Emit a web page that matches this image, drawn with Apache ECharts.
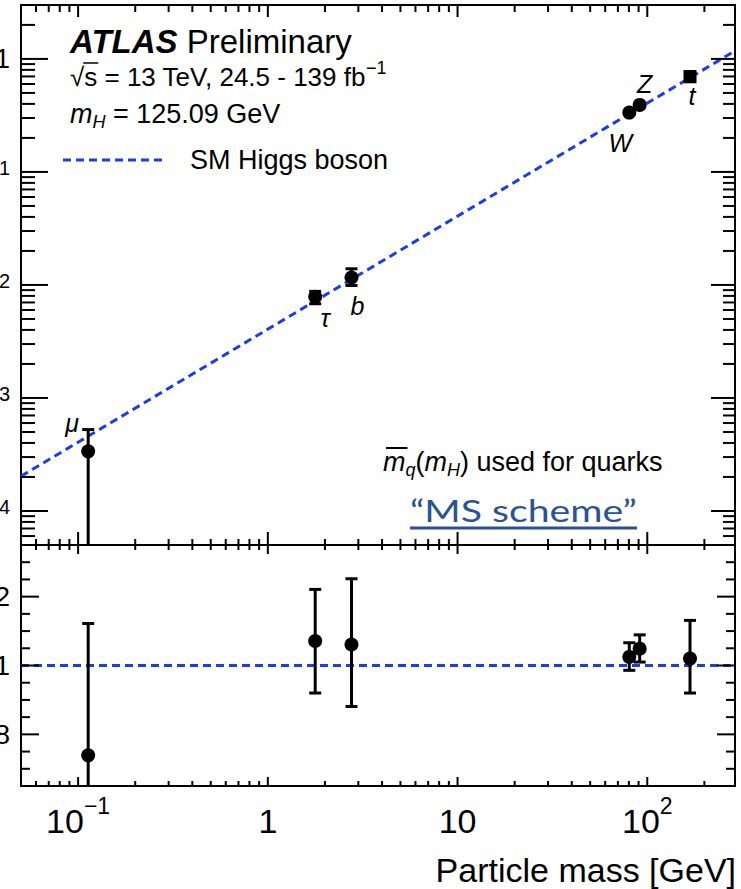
<!DOCTYPE html>
<html>
<head>
<meta charset="utf-8">
<script src="https://cdn.jsdelivr.net/npm/echarts@6/dist/echarts.min.js"></script>
<style>
  html, body { margin: 0; padding: 0; background: #fff; }
  #chart { width: 741px; height: 889px; }
</style>
</head>
<body>
<div id="chart"></div>
<script>
// ---- measured couplings (top panel) and ratios to the SM expectation (bottom panel)
const particleNames = ['μ', 'τ', 'b', 'W', 'Z', 't'];
const particleMass = [0.113, 1.777, 2.76, 80.38, 91.19, 168];
const couplingValue = [3.37e-4, 7.86e-3, 0.01165, 0.335, 0.392, 0.697];
const couplingLow = [1e-5, 6.82e-3, 0.0099, 0.322, 0.377, 0.629];
const couplingHigh = [5.25e-4, 8.77e-3, 0.0139, 0.349, 0.407, 0.773];
const ratioValue = [0.739, 1.071, 1.061, 1.025, 1.049, 1.020];
const ratioLow = [0.30, 0.920, 0.881, 0.986, 1.010, 0.920];
const ratioHigh = [1.122, 1.221, 1.252, 1.066, 1.089, 1.131];

// SM Higgs boson expectation (straight line on log-log axes)
const smLineMass = [0.05, 290];
const smLineCoupling = [2.03e-4, 1.178];
const smLineRatio = [1, 1];

// axis ranges and tick labels
const xRange = [0.05, 290];
const yRangeTop = [5e-5, 3];
const yRangeRatio = [0.65, 1.35];
const xTickLabels = [[0.1, '10', '−1'], [1, '1', ''], [10, '10', ''], [100, '10', '2']];
const yTickLabelsTop = [[1e-4, '10', '−4'], [1e-3, '10', '−3'], [1e-2, '10', '−2'], [1e-1, '10', '−1'], [1, '1', '']];
const yTickLabelsRatio = [[0.8, '0.8'], [1, '1'], [1.2, '1.2']];

// ---- styling
const BLUE = '#1a3ee6';
const FONT = '"Liberation Sans", Arial, Helvetica, sans-serif';
const DASH = [8, 5];
const labelOffset = [[-16, -28], [10, 21], [6, 29], [-9, 30], [5, -21], [2, 19]];
const markerSymbol = ['circle', 'circle', 'circle', 'circle', 'circle', 'rect'];

const measureCtx = document.createElement('canvas').getContext('2d');
function textWidth(str, font) { measureCtx.font = font; return measureCtx.measureText(str).width; }
function fnt(size, style) { return (style ? style + ' ' : '') + size + 'px ' + FONT; }

// lays out a sequence of text runs left to right: [text, font, dy]
function textRuns(x, y, parts, fill) {
  const els = [];
  let cx = x;
  parts.forEach(([t, f, dy]) => {
    els.push({ type: 'text', x: cx, y: y + (dy || 0), silent: true,
      style: { text: t, font: f, fill: fill || '#000', align: 'left', verticalAlign: 'middle' } });
    cx += textWidth(t, f);
  });
  return { els, width: cx - x };
}

function logMinorTicks(lo, hi) {
  const out = [];
  for (let e = Math.floor(Math.log10(lo)) - 1; e <= Math.ceil(Math.log10(hi)); e++) {
    for (let k = 2; k <= 9; k++) {
      const v = k * Math.pow(10, e);
      if (v >= lo * 0.999 && v <= hi * 1.001) out.push(v);
    }
  }
  return out;
}
const xMajor = [0.1, 1, 10, 100];
const xMinor = logMinorTicks(xRange[0], xRange[1]);
const yMajorTop = [1e-4, 1e-3, 1e-2, 1e-1, 1];
const yMinorTop = logMinorTicks(yRangeTop[0], yRangeTop[1]);
const yMajorRatio = [0.8, 1, 1.2];
const yMinorRatio = [];
for (let i = 65; i <= 135; i += 5) { if (i !== 80 && i !== 100 && i !== 120) yMinorRatio.push(i / 100); }

function seg(x1, y1, x2, y2, w, color) {
  return { type: 'line', silent: true, shape: { x1, y1, x2, y2 }, style: { stroke: color || '#000', lineWidth: w || 2 } };
}

// inward tick marks on all four sides of a panel, plus its tick labels
function frameRenderer(cfg) {
  return function (params, api) {
    const els = [];
    const [x0, x1] = xRange;
    const [y0, y1] = cfg.yRange;
    const xt = (v, lb, lt) => {
      const b = api.coord([v, y0]), t = api.coord([v, y1]);
      els.push(seg(b[0], b[1], b[0], b[1] - lb));
      els.push(seg(t[0], t[1], t[0], t[1] + lt));
    };
    const yt = (v, ll, lr) => {
      const l = api.coord([x0, v]), r = api.coord([x1, v]);
      els.push(seg(l[0], l[1], l[0] + ll, l[1]));
      els.push(seg(r[0], r[1], r[0] - lr, r[1]));
    };
    xMajor.forEach(v => xt(v, cfg.xMajB, cfg.xMajT));
    xMinor.forEach(v => xt(v, cfg.xMinB, cfg.xMinT));
    cfg.yMajor.forEach(v => yt(v, cfg.yMajL, cfg.yMajR));
    cfg.yMinor.forEach(v => yt(v, cfg.yMinL, cfg.yMinR));

    // y tick labels
    if (cfg.yLabelsExp) {
      cfg.yLabelsExp.forEach(([v, base, sup]) => {
        const p = api.coord([x0, v]);
        const right = p[0] - 11;
        const fb = fnt(27), fs = fnt(20);
        if (sup) {
          const ws = textWidth(sup, fs), wb = textWidth(base, fb);
          els.push(...textRuns(right - ws - wb, p[1] + 5, [[base, fb, 0], [sup, fs, -9]]).els);
        } else {
          els.push(...textRuns(right - textWidth(base, fb), p[1], [[base, fb, 0]]).els);
        }
      });
    }
    if (cfg.yLabels) {
      cfg.yLabels.forEach(([v, txt]) => {
        const p = api.coord([x0, v]);
        const f = fnt(28);
        els.push(...textRuns(p[0] - 11 - textWidth(txt, f), p[1], [[txt, f, 0]]).els);
      });
    }
    // x tick labels
    if (cfg.xLabels) {
      cfg.xLabels.forEach(([v, base, sup]) => {
        const p = api.coord([v, y0]);
        const fb = fnt(34), fs = fnt(23);
        const w = textWidth(base, fb) + (sup ? textWidth(sup, fs) : 0);
        const parts = [[base, fb, 0]];
        if (sup) parts.push([sup, fs, -15]);
        els.push(...textRuns(p[0] - w / 2, p[1] + 35, parts).els);
      });
    }
    return { type: 'group', children: els };
  };
}

function errorBarRenderer(params, api) {
  const x = api.value(0), lo = api.value(1), hi = api.value(2);
  const a = api.coord([x, lo]), b = api.coord([x, hi]);
  const cap = 6;
  return { type: 'group', children: [
    seg(a[0], a[1], b[0], b[1], 3),
    seg(b[0] - cap, b[1], b[0] + cap, b[1], 3),
    seg(a[0] - cap, a[1], a[0] + cap, a[1], 3)
  ] };
}

const zip = (xs, ys) => xs.map((x, i) => [x, ys[i]]);

const chart = echarts.init(document.getElementById('chart'), null, { renderer: 'svg' });

const axisBase = { type: 'log', logBase: 10, show: false };

chart.setOption({
  animation: false,
  backgroundColor: '#fff',
  grid: [
    { left: 21, top: 5, width: 714, height: 540, show: true, borderColor: '#000', borderWidth: 2, backgroundColor: 'transparent' },
    { left: 21, top: 545, width: 714, height: 241, show: true, borderColor: '#000', borderWidth: 2, backgroundColor: 'transparent' }
  ],
  xAxis: [
    Object.assign({ gridIndex: 0, min: xRange[0], max: xRange[1] }, axisBase),
    Object.assign({ gridIndex: 1, min: xRange[0], max: xRange[1] }, axisBase)
  ],
  yAxis: [
    Object.assign({ gridIndex: 0, min: yRangeTop[0], max: yRangeTop[1] }, axisBase),
    { gridIndex: 1, type: 'value', show: false, min: yRangeRatio[0], max: yRangeRatio[1] }
  ],
  series: [
    { type: 'line', xAxisIndex: 0, yAxisIndex: 0, data: zip(smLineMass, smLineCoupling), showSymbol: false, silent: true, z: 2,
      lineStyle: { color: BLUE, width: 3, type: DASH } },
    { type: 'line', xAxisIndex: 1, yAxisIndex: 1, data: zip(smLineMass, smLineRatio), showSymbol: false, silent: true, z: 2,
      lineStyle: { color: BLUE, width: 3, type: DASH } },
    { type: 'custom', xAxisIndex: 0, yAxisIndex: 0, clip: true, z: 3, silent: true,
      data: particleMass.map((m, i) => [m, couplingLow[i], couplingHigh[i]]),
      encode: { x: 0, y: [1, 2] }, renderItem: errorBarRenderer },
    { type: 'custom', xAxisIndex: 1, yAxisIndex: 1, clip: true, z: 3, silent: true,
      data: particleMass.map((m, i) => [m, ratioLow[i], ratioHigh[i]]),
      encode: { x: 0, y: [1, 2] }, renderItem: errorBarRenderer },
    { type: 'scatter', xAxisIndex: 0, yAxisIndex: 0, z: 4, silent: true,
      itemStyle: { color: '#000', opacity: 1 },
      data: particleMass.map((m, i) => ({
        value: [m, couplingValue[i]], name: particleNames[i],
        symbol: markerSymbol[i], symbolSize: markerSymbol[i] === 'rect' ? 13 : 14,
        label: { show: true, position: 'inside', offset: labelOffset[i], formatter: particleNames[i],
          color: '#000', fontStyle: 'italic', fontSize: 25, fontFamily: FONT }
      })) },
    { type: 'scatter', xAxisIndex: 1, yAxisIndex: 1, z: 4, silent: true, symbol: 'circle', symbolSize: 14,
      itemStyle: { color: '#000', opacity: 1 }, data: zip(particleMass, ratioValue) },
    { type: 'custom', xAxisIndex: 0, yAxisIndex: 0, clip: false, z: 5, silent: true, data: [[1, 1]],
      renderItem: frameRenderer({ yRange: yRangeTop, yMajor: yMajorTop, yMinor: yMinorTop,
        xMajB: 13, xMajT: 12, xMinB: 6, xMinT: 7, yMajL: 27, yMinL: 14, yMajR: 24, yMinR: 12,
        yLabelsExp: yTickLabelsTop }) },
    { type: 'custom', xAxisIndex: 1, yAxisIndex: 1, clip: false, z: 5, silent: true, data: [[1, 1]],
      renderItem: frameRenderer({ yRange: yRangeRatio, yMajor: yMajorRatio, yMinor: yMinorRatio,
        xMajB: 9, xMajT: 9, xMinB: 5, xMinT: 5, yMajL: 18, yMinL: 9, yMajR: 18, yMinR: 9,
        yLabels: yTickLabelsRatio, xLabels: xTickLabels }) }
  ]
});

// ---- annotations
const g = [];
g.push(...textRuns(70, 41, [['ATLAS', fnt(33, 'italic bold')], [' Preliminary', fnt(33)]]).els);

const f26 = fnt(26), f18 = fnt(18);
const rootW = textWidth('√', f26);
g.push(...textRuns(70, 77, [['√', f26], ['s = 13 TeV, 24.5 - 139 fb', f26], ['−1', f18, -9]]).els);
g.push(seg(70 + rootW - 1, 63, 70 + rootW + textWidth('s', f26) + 1, 63, 1.5));

const f27 = fnt(27), f27i = fnt(27, 'italic'), f18i = fnt(18, 'italic');
g.push(...textRuns(70, 114, [['m', f27i], ['H', f18i, 8], [' = 125.09 GeV', f27]]).els);

const legendLine = seg(63, 160, 165, 160, 3, BLUE);
legendLine.style.lineDash = DASH;
g.push(legendLine);
g.push(...textRuns(190, 160, [['SM Higgs boson', f27]]).els);

const mW = textWidth('m', f27i);
g.push(...textRuns(383, 462, [['m', f27i], ['q', f18i, 8], ['(', f27],
  ['m', f27i], ['H', f18i, 8], [') used for quarks', f27]]).els);
g.push(seg(386, 448, 384 + mW + 1, 448, 2));

// "MS scheme" note, stretched horizontally to its wide display face
const schemeFont = '31px Lato, "Open Sans", sans-serif';
const schemeText = '“MS scheme”';
const schemeW = textWidth(schemeText, schemeFont);
const schemeStretch = 227 / schemeW;
g.push({ type: 'text', x: 410, y: 510, scaleX: schemeStretch, silent: true,
  style: { text: schemeText, font: schemeFont, fill: '#2b5291', align: 'left', verticalAlign: 'middle' } });
g.push(seg(410, 528, 637, 528, 3, '#2b5291'));

g.push({ type: 'text', x: 736, y: 870, silent: true,
  style: { text: 'Particle mass [GeV]', font: fnt(34), fill: '#000', align: 'right', verticalAlign: 'middle' } });

chart.setOption({ graphic: { elements: g } });
</script>
</body>
</html>
